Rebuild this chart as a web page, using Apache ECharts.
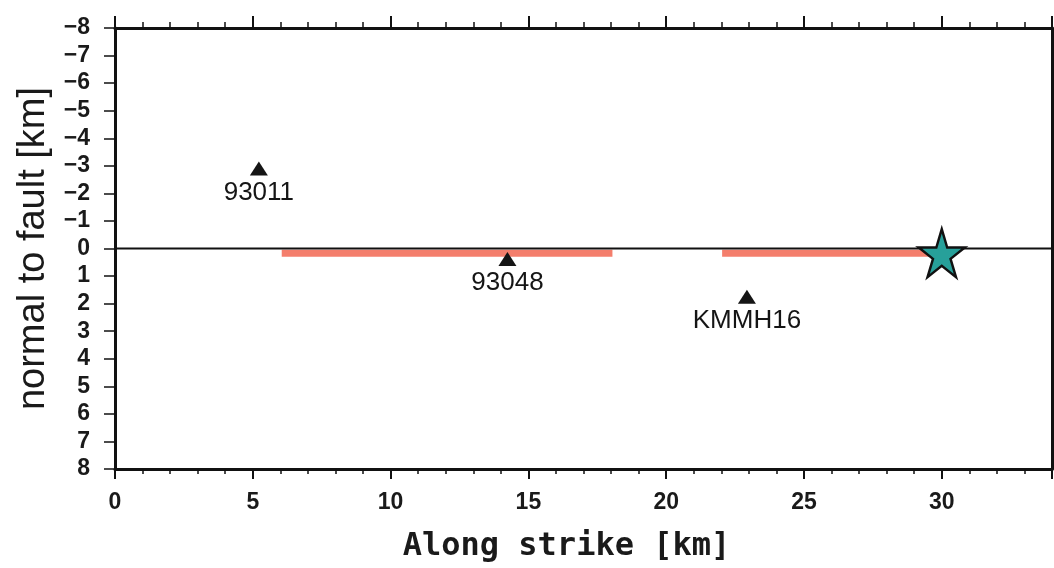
<!DOCTYPE html>
<html>
<head>
<meta charset="utf-8">
<script src="https://cdn.jsdelivr.net/npm/echarts@6/dist/echarts.min.js"></script>
<style>
  html, body { margin: 0; padding: 0; background: #fff; }
  #main { width: 1054px; height: 568px; }
</style>
</head>
<body>
<div id="main"></div>
<script>
// data
const stationNames = ['93011', '93048', 'KMMH16'];
const stationX = [5.22, 14.24, 22.93];
const stationY = [-2.9, 0.38, 1.75];

const faultSeg1 = [[6.05, 0.17], [18.05, 0.17]];
const faultSeg2 = [[22.03, 0.17], [30.0, 0.17]];
const strikeLine = [[0, 0], [34, 0]];
const epicenter = [[30, 0.17]];

const xMin = 0, xMax = 34;
const yMin = -8, yMax = 8;

const starPath = 'path://M50 0 L61.23 34.55 L97.55 34.55 L68.17 55.9 L79.39 90.45 L50 69.1 L20.61 90.45 L31.83 55.9 L2.45 34.55 L38.77 34.55 Z';

const chart = echarts.init(document.getElementById('main'));

function yLabel(v) {
  return v < 0 ? '\u2212' + (-v) : String(v);
}

const option = {
  animation: false,
  backgroundColor: '#fff',
  grid: { left: 115, right: 2, top: 28, bottom: 98 },
  xAxis: [
    {
      type: 'value', min: xMin, max: xMax, interval: 5, position: 'bottom',
      name: 'Along strike [km]', nameLocation: 'middle', nameGap: 62,
      nameTextStyle: {
        fontFamily: 'DejaVu Sans Mono', fontWeight: 'bold', fontSize: 32, color: '#1a1a1a',
        padding: [0, 34, 0, 0]
      },
      axisLine: { show: true, onZero: false, lineStyle: { color: '#111', width: 3 } },
      axisTick: { show: true, inside: false, length: 10, lineStyle: { color: '#111', width: 2 } },
      minorTick: { show: true, splitNumber: 5, length: 5, lineStyle: { color: '#111', width: 1.5 } },
      axisLabel: {
        margin: 22, showMaxLabel: false,
        fontFamily: 'Liberation Sans', fontWeight: 'bold', fontSize: 23, color: '#1a1a1a'
      },
      splitLine: { show: false }
    },
    {
      type: 'value', min: xMin, max: xMax, interval: 5, position: 'top',
      axisLine: { show: true, onZero: false, lineStyle: { color: '#111', width: 3 } },
      axisTick: { show: true, inside: false, length: 12, lineStyle: { color: '#111', width: 2 } },
      minorTick: { show: true, splitNumber: 5, length: 6, lineStyle: { color: '#111', width: 1.5 } },
      axisLabel: { show: false },
      splitLine: { show: false }
    }
  ],
  yAxis: [
    {
      type: 'value', min: yMin, max: yMax, interval: 1, inverse: true, position: 'left',
      name: 'normal to fault [km]', nameLocation: 'middle', nameGap: 62, nameRotate: 90,
      nameTextStyle: { fontFamily: 'Liberation Sans', fontSize: 38, color: '#1a1a1a' },
      axisLine: { show: true, onZero: false, lineStyle: { color: '#111', width: 3 } },
      axisTick: { show: true, inside: false, length: 11, lineStyle: { color: '#111', width: 1.5 } },
      axisLabel: {
        margin: 25, formatter: yLabel,
        fontFamily: 'Liberation Sans', fontWeight: 'bold', fontSize: 23, color: '#1a1a1a'
      },
      splitLine: { show: false }
    },
    {
      type: 'value', min: yMin, max: yMax, inverse: true, position: 'right',
      axisLine: { show: true, onZero: false, lineStyle: { color: '#111', width: 3 } },
      axisTick: { show: false },
      axisLabel: { show: false },
      splitLine: { show: false }
    }
  ],
  series: [
    {
      type: 'line', data: strikeLine, symbol: 'none', silent: true,
      lineStyle: { color: '#111', width: 2 }, z: 3
    },
    {
      type: 'line', data: faultSeg1, symbol: 'none', silent: true,
      lineStyle: { color: '#f47e6c', width: 7, cap: 'butt' }, z: 2
    },
    {
      type: 'line', data: faultSeg2, symbol: 'none', silent: true,
      lineStyle: { color: '#f47e6c', width: 7, cap: 'butt' }, z: 2
    },
    {
      type: 'scatter', symbol: 'triangle', symbolSize: [18, 14],
      itemStyle: { color: '#151515', opacity: 1 }, z: 5,
      data: stationNames.map((n, i) => ({ name: n, value: [stationX[i], stationY[i]] })),
      label: {
        show: true, position: 'bottom', distance: 4,
        formatter: p => p.name,
        fontFamily: 'Liberation Sans', fontSize: 26, color: '#151515'
      }
    },
    {
      type: 'scatter', symbol: starPath, symbolSize: [46, 48], data: epicenter,
      itemStyle: { color: '#27a09a', borderColor: '#111', borderWidth: 2.5, opacity: 1 }, z: 6
    }
  ]
};

chart.setOption(option);
</script>
</body>
</html>
